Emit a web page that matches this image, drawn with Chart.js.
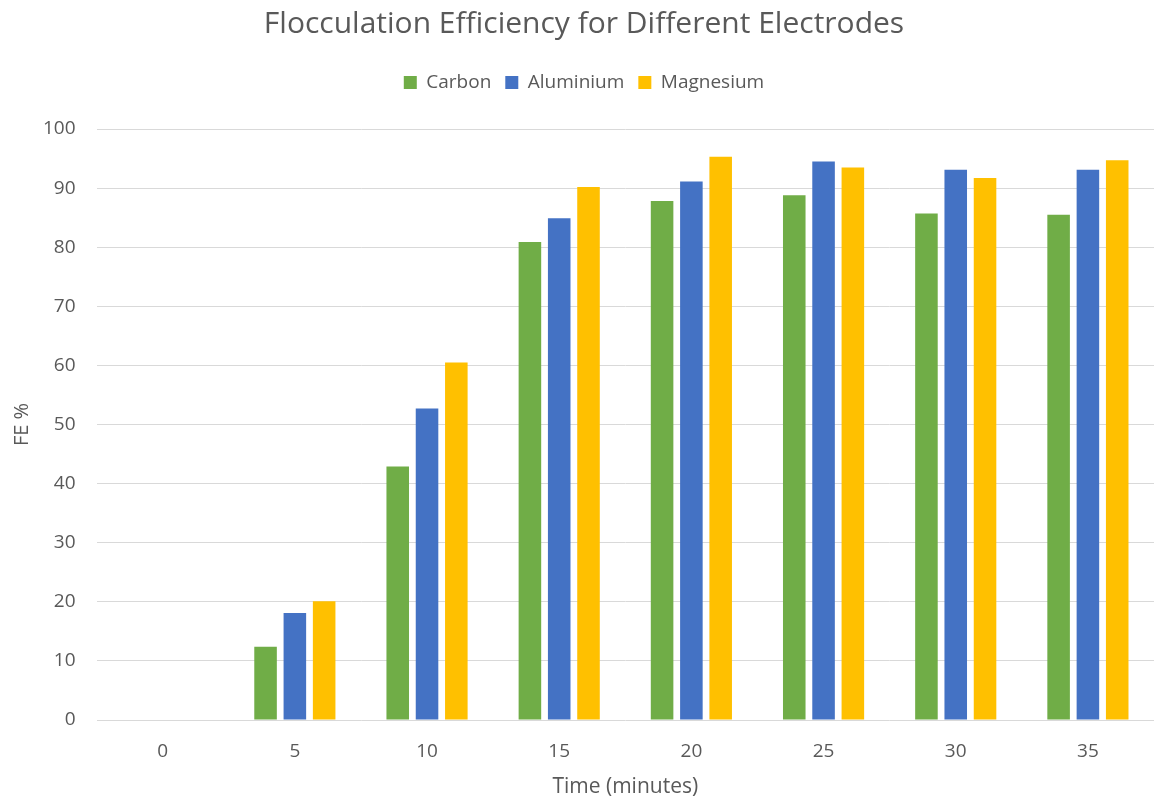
<!DOCTYPE html>
<html>
<head>
<meta charset="utf-8">
<script src="https://cdn.jsdelivr.net/npm/chart.js@4/dist/chart.umd.min.js"></script>
<style>
  html, body { margin: 0; padding: 0; background: #ffffff; }
  #wrap { width: 1154px; height: 798px; }
</style>
</head>
<body>
<div id="wrap"><canvas id="c" width="1154" height="798"></canvas></div>
<script>
const categories = ['0', '5', '10', '15', '20', '25', '30', '35'];
const carbon    = [0, 12.4, 42.9, 80.9, 87.8, 88.8, 85.7, 85.5];
const aluminium = [0, 18.1, 52.7, 84.9, 91.1, 94.5, 93.1, 93.1];
const magnesium = [0, 20.1, 60.5, 90.2, 95.3, 93.5, 91.7, 94.7];
const seriesNames = ['Carbon', 'Aluminium', 'Magnesium'];
const seriesColors = ['#70AD47', '#4472C4', '#FFC000'];

const font = "'Open Sans', 'DejaVu Sans', sans-serif";
const textColor = '#595959';

const legendMargin = {
  id: 'legendMargin',
  beforeInit(chart) {
    const orig = chart.legend.fit;
    chart.legend.fit = function () {
      orig.call(this);
      this.height += 27;
    };
  }
};

new Chart(document.getElementById('c'), {
  type: 'bar',
  data: {
    labels: categories,
    datasets: [carbon, aluminium, magnesium].map((d, i) => ({
      label: seriesNames[i],
      data: d,
      backgroundColor: seriesColors[i],
      borderWidth: 0,
      categoryPercentage: 0.665,
      barPercentage: 0.77
    }))
  },
  plugins: [legendMargin],
  options: {
    responsive: false,
    animation: false,
    devicePixelRatio: 1,
    layout: { padding: { top: 2, right: -4, bottom: 0, left: 10 } },
    plugins: {
      title: {
        display: true,
        text: 'Flocculation Efficiency for Different Electrodes',
        color: textColor,
        font: { family: font, size: 30, weight: 'normal' },
        padding: { top: 4, bottom: 17 }
      },
      legend: {
        position: 'top',
        labels: {
          color: textColor,
          font: { family: font, size: 19 },
          boxWidth: 13,
          boxHeight: 13,
          padding: 14
        }
      },
      tooltip: { enabled: false }
    },
    scales: {
      x: {
        grid: { display: false, drawTicks: false },
        border: { display: false },
        ticks: { color: textColor, font: { family: font, size: 19 }, padding: 20 },
        title: {
          display: true, text: 'Time (minutes)', color: textColor,
          font: { family: font, size: 21 }, padding: { top: -8, bottom: -2 }
        }
      },
      y: {
        min: 0, max: 100,
        ticks: { stepSize: 10, color: textColor, font: { family: font, size: 19 }, padding: 21 },
        grid: { color: '#d9d9d9', lineWidth: 1, drawTicks: false },
        border: { display: false },
        title: {
          display: true, text: 'FE %', color: textColor,
          font: { family: font, size: 20 }, padding: { top: 0, bottom: -12 }
        }
      }
    }
  }
});
</script>
</body>
</html>
